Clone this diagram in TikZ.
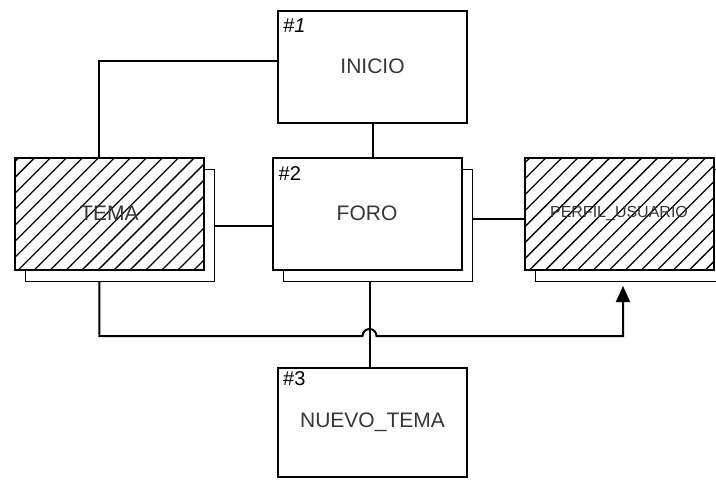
\documentclass[tikz,border=0pt]{standalone}
\usepackage{fontspec}
\setmainfont{Liberation Sans}
\usepackage{tikz}
\usetikzlibrary{arrows.meta, positioning, calc, patterns.meta, backgrounds}
\definecolor{mytext}{RGB}{55,55,55}
\tikzset{
  entity/.style={rectangle, draw=black, fill=white, line width=2pt,
    minimum width=189pt, minimum height=112pt, inner sep=0pt,
    text=mytext, font=\fontsize{21}{24}\selectfont},
  hatchentity/.style={entity, preaction={fill=white},
    pattern={Lines[angle=45, distance=11.3pt, line width=1.3pt]}},
  shadowbox/.style={rectangle, draw=black, fill=white, line width=1pt,
    minimum width=189pt, minimum height=112pt, inner sep=0pt},
  numlabel/.style={inner sep=0pt, anchor=north west, text=black,
    font=\fontsize{20}{22}\selectfont},
  conn/.style={line width=2pt, color=black},
  connarrow/.style={conn, -{Triangle[length=16pt, width=14pt]}}
}
\begin{document}
\begin{tikzpicture}[x=1pt, y=1pt]
  \useasboundingbox (0,0) rectangle (716,-480);
  % entities
  \node[entity] (foro) at (367,-213.5) {FORO};
  \node[hatchentity, left=67pt of foro] (tema) {TEMA};
  \node[hatchentity, right=61pt of foro, font=\fontsize{16}{19}\selectfont] (perfil) {PERFIL\_USUARIO};
  \node[entity, above=33pt of foro, xshift=5.5pt] (inicio) {INICIO};
  \node[entity, below=96pt of foro, xshift=5.5pt, minimum height=109pt] (nuevo) {NUEVO\_TEMA};
  % shadows
  \begin{scope}[on background layer]
    \node[shadowbox] (temaS) at ([shift={(11,-12)}]tema.center) {};
    \node[shadowbox] (foroS) at ([shift={(11,-12)}]foro.center) {};
    \node[shadowbox] (perfilS) at ([shift={(11,-12)}]perfil.center) {};
  \end{scope}
  % numbers
  \node[numlabel] (n1) at ([shift={(6,-9)}]inicio.north west) {\itshape\#1};
  \node[numlabel] (n2) at ([shift={(7,-10)}]foro.north west) {\#2};
  \node[numlabel] (n3) at ([shift={(6,-5)}]nuevo.north west) {\#3};
  % connectors
  \coordinate (temaTap) at ([xshift=-10]tema.south);
  \coordinate (hop) at ([xshift=-3]nuevo.north |- 0,-336);
  \draw[conn] ([yshift=5.5]inicio.west) -| ([xshift=-10]tema.north);
  \draw[conn] (inicio.south) -- (inicio.south |- foro.north);
  \draw[conn] (temaS.east) -- (temaS.east -| foro.west);
  \draw[conn] ([yshift=-5]perfil.west) -- ([yshift=-5]perfil.west -| foroS.east);
  \draw[conn] ([xshift=-3]nuevo.north) -- ([xshift=-3]nuevo.north |- foroS.south);
  \draw[connarrow] (temaS.south -| temaTap) |- ([xshift=-7]hop)
    arc[start angle=180, end angle=0, radius=7]
    -| ([shift={(-7,-4)}]perfilS.south);
\end{tikzpicture}
\end{document}
